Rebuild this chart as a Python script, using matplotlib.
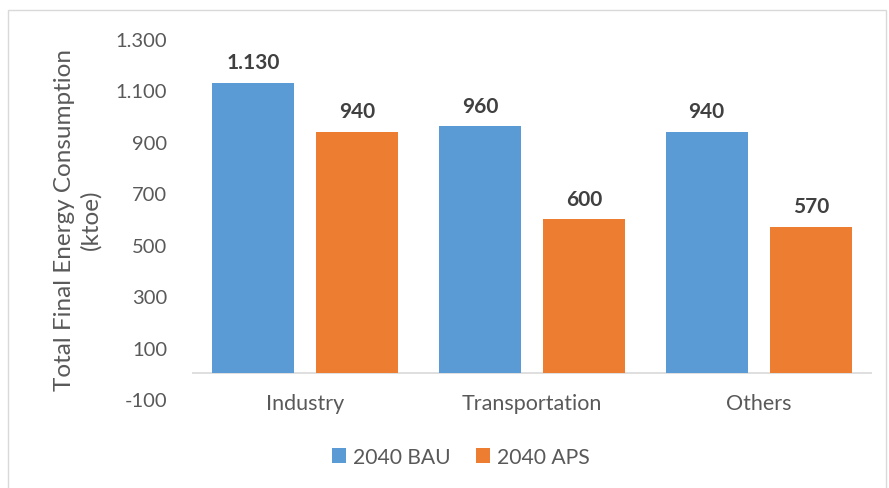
import matplotlib
matplotlib.use('Agg')
import matplotlib.pyplot as plt
import numpy as np
from matplotlib.patches import Rectangle
from matplotlib.ticker import FuncFormatter

categories = ['Industry', 'Transportation', 'Others']
bau_2040 = [1130, 960, 940]
aps_2040 = [940, 600, 570]
series_names = ['2040 BAU', '2040 APS']
y_ticks = [-100, 100, 300, 500, 700, 900, 1100, 1300]

BLUE = '#5B9BD5'
ORANGE = '#ED7D31'
TEXT = '#595959'

plt.rcParams['font.family'] = ['Lato', 'DejaVu Sans']


def dot_thousands(v, pos=None):
    # European style thousands separator: 1.300
    return f'{int(v):,}'.replace(',', '.')


fig = plt.figure(figsize=(8.89, 4.89), dpi=100)
ax = fig.add_axes([192 / 889, 1 - 400 / 489, (872 - 192) / 889, 360 / 489])

x = np.arange(len(categories))
w = 0.362
off = 0.23
b1 = ax.bar(x - off, bau_2040, w, color=BLUE, label=series_names[0])
b2 = ax.bar(x + off, aps_2040, w, color=ORANGE, label=series_names[1])

for bars in (b1, b2):
    for r in bars:
        ax.text(r.get_x() + r.get_width() / 2, r.get_height() + 40,
                dot_thousands(r.get_height()), ha='center', va='bottom',
                fontsize=15, fontweight='bold', color='#404040')

ax.set_xlim(-0.5, 2.5)
ax.set_ylim(-100, 1300)
ax.set_yticks(y_ticks)
ax.yaxis.set_major_formatter(FuncFormatter(dot_thousands))
ax.set_xticks(x)
ax.set_xticklabels(categories)
ax.tick_params(axis='both', length=0, labelsize=14.5, colors=TEXT)
ax.tick_params(axis='y', pad=18)
ax.tick_params(axis='x', pad=-4, labelsize=15.5)

for s in ('top', 'right', 'left', 'bottom'):
    ax.spines[s].set_visible(False)
ax.axhline(0, color='#D9D9D9', linewidth=1.2, zorder=0)

ax.set_ylabel('Total Final Energy Consumption\n(ktoe)', fontsize=17.5,
              color=TEXT, labelpad=10, linespacing=1.3)

fig.legend(handles=[b1, b2], labels=series_names, loc='center',
           bbox_to_anchor=(0.518, 1 - 458 / 489), ncol=2, frameon=False,
           fontsize=15.2, labelcolor=TEXT, handlelength=0.7, handleheight=0.7,
           handletextpad=0.3, columnspacing=1.2)

fig.patches.append(Rectangle((8 / 889, -0.05), (886 - 8) / 889, 1.05 - 11 / 489,
                             transform=fig.transFigure, fill=False,
                             edgecolor='#D9D9D9', linewidth=1.0))

fig.savefig('out.png', dpi=100)
